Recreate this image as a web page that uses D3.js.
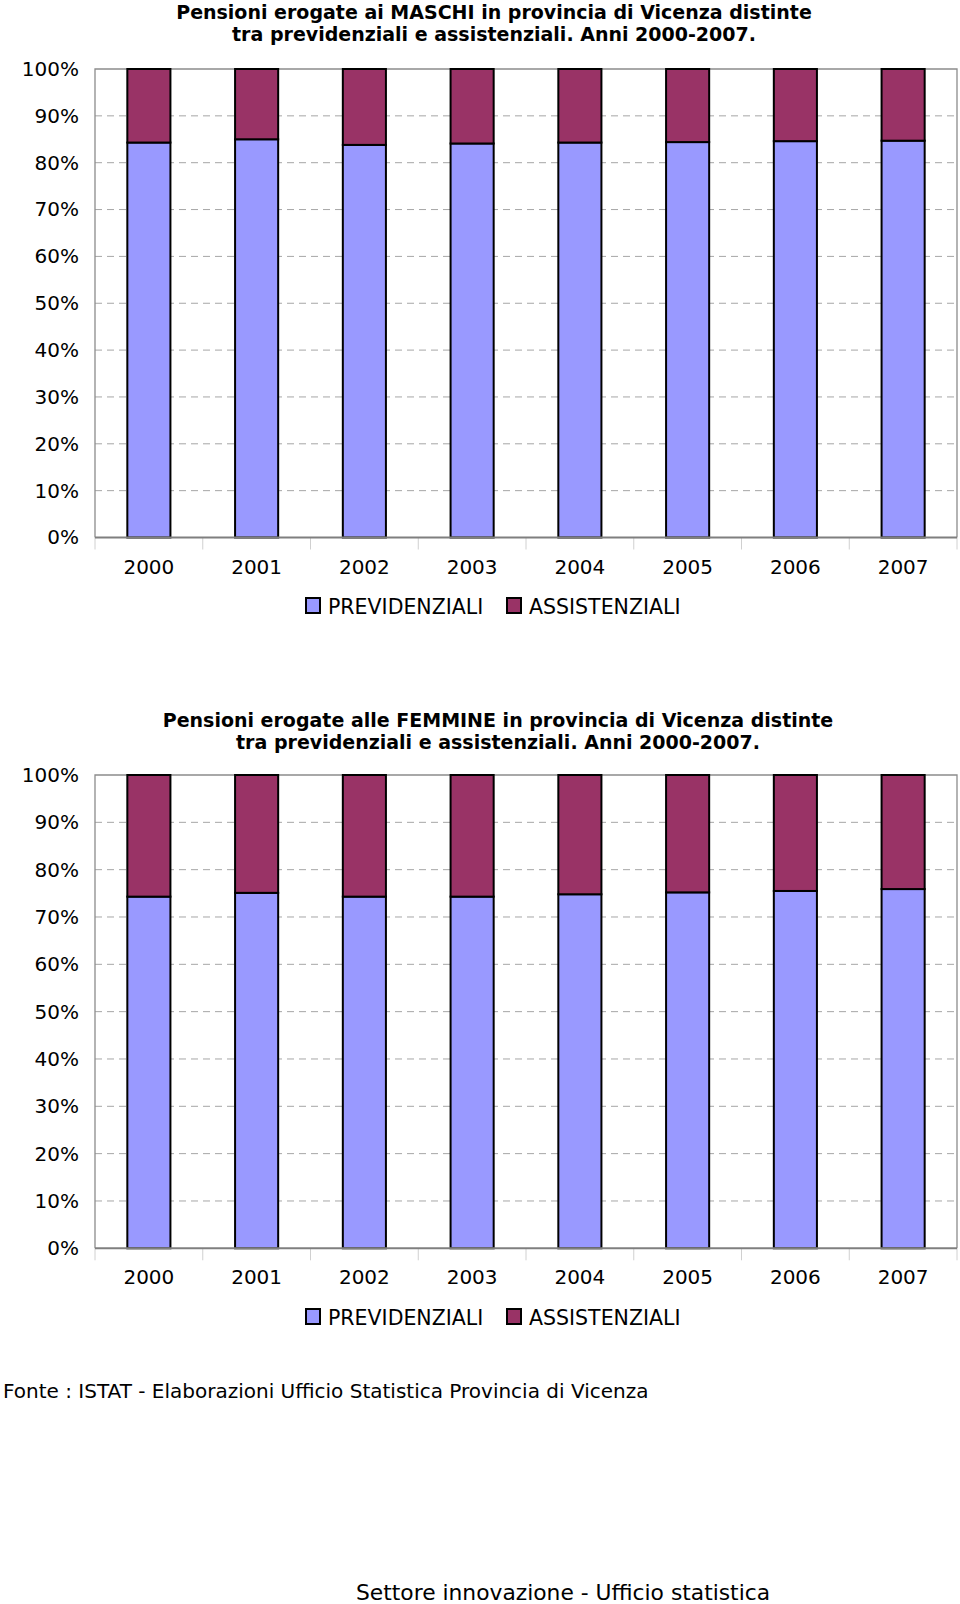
<!DOCTYPE html>
<html>
<head>
<meta charset="utf-8">
<script src="https://cdn.jsdelivr.net/npm/d3@7"></script>
<style>
  html, body { margin: 0; padding: 0; background: #fff; }
  svg { display: block; }
  text { font-family: "DejaVu Sans", Verdana, sans-serif; fill: #000; }
</style>
</head>
<body>
<svg id="chart" width="960" height="1604"></svg>
<script>
// ---- data ----
const years = ["2000", "2001", "2002", "2003", "2004", "2005", "2006", "2007"];
const seriesNames = ["PREVIDENZIALI", "ASSISTENZIALI"];
const maschiPrev = [84.3, 85.0, 83.8, 84.1, 84.3, 84.4, 84.6, 84.7];
const maschiAss  = [15.7, 15.0, 16.2, 15.9, 15.7, 15.6, 15.4, 15.3];
const femminePrev = [74.3, 75.1, 74.3, 74.3, 74.8, 75.2, 75.5, 75.9];
const femmineAss  = [25.7, 24.9, 25.7, 25.7, 25.2, 24.8, 24.5, 24.1];
const yTicks = [0, 10, 20, 30, 40, 50, 60, 70, 80, 90, 100];
const titleMaschi = ["Pensioni erogate ai MASCHI in provincia di Vicenza distinte",
                     "tra previdenziali e assistenziali. Anni 2000-2007."];
const titleFemmine = ["Pensioni erogate alle FEMMINE in provincia di Vicenza distinte",
                      "tra previdenziali e assistenziali. Anni 2000-2007."];
const sourceText = "Fonte : ISTAT - Elaborazioni Ufficio Statistica Provincia di Vicenza";
const footerText = "Settore innovazione - Ufficio statistica";

const colors = { PREVIDENZIALI: "#9999FF", ASSISTENZIALI: "#993366" };

const svg = d3.select("#chart");

function drawChart(cfg) {
  const g = svg.append("g");
  const x = d3.scaleBand().domain(years).range([cfg.left, cfg.right]).paddingInner(0.6).paddingOuter(0.3);
  const y = d3.scaleLinear().domain([0, 100]).range([cfg.bottom, cfg.top]);

  // title
  g.selectAll("text.title").data(cfg.title).enter().append("text")
    .attr("class", "title")
    .attr("x", cfg.titleX)
    .attr("y", (d, i) => cfg.titleY + i * 22)
    .attr("text-anchor", "middle")
    .style("font-weight", "bold")
    .style("font-size", "19px")
    .text(d => d);

  // gridlines
  g.append("g").selectAll("line").data(yTicks.filter(t => t > 0 && t < 100)).enter().append("line")
    .attr("x1", cfg.left).attr("x2", cfg.right)
    .attr("y1", d => y(d)).attr("y2", d => y(d))
    .attr("stroke", "#a6a6a6").attr("stroke-width", 1)
    .attr("stroke-dasharray", "7,5");

  // plot frame (left, top, right)
  g.append("path")
    .attr("d", `M${cfg.left},${cfg.bottom}V${cfg.top}H${cfg.right}V${cfg.bottom}`)
    .attr("fill", "none").attr("stroke", "#8c8c8c").attr("stroke-width", 1.3);

  // y axis labels
  const yAxis = d3.axisLeft(y).tickValues(yTicks).tickFormat(d => d + "%").tickSize(0).tickPadding(16);
  const ya = g.append("g").attr("transform", `translate(${cfg.left},0)`).call(yAxis);
  ya.select(".domain").remove();
  ya.selectAll("text").style("font-size", "20px").style("font-family", "'DejaVu Sans', Verdana, sans-serif").attr("fill", "#000");

  // category separator ticks
  const bounds = d3.range(years.length + 1).map(i => cfg.left + i * x.step());
  g.append("g").selectAll("line").data(bounds).enter().append("line")
    .attr("x1", d => d).attr("x2", d => d)
    .attr("y1", cfg.bottom).attr("y2", cfg.bottom + 12)
    .attr("stroke", "#d0d0d0").attr("stroke-width", 1);

  // stacked bars
  const rows = years.map((yr, i) => ({ year: yr, PREVIDENZIALI: cfg.prev[i], ASSISTENZIALI: cfg.ass[i] }));
  const stack = d3.stack().keys(seriesNames)(rows);
  g.append("g").selectAll("g").data(stack).enter().append("g")
    .attr("fill", d => colors[d.key])
    .selectAll("rect").data(d => d).enter().append("rect")
    .attr("x", d => x(d.data.year))
    .attr("width", x.bandwidth())
    .attr("y", d => y(d[1]))
    .attr("height", d => y(d[0]) - y(d[1]))
    .attr("stroke", "#000").attr("stroke-width", 2);

  // x axis line
  g.append("line").attr("x1", cfg.left).attr("x2", cfg.right)
    .attr("y1", cfg.bottom).attr("y2", cfg.bottom)
    .attr("stroke", "#7f7f7f").attr("stroke-width", 2);

  // x labels
  const xAxis = d3.axisBottom(x).tickSize(0).tickPadding(0);
  const xa = g.append("g").attr("transform", `translate(0,${cfg.bottom})`).call(xAxis);
  xa.select(".domain").remove();
  xa.selectAll("text").attr("dy", null).attr("y", cfg.xLabelBaseline - cfg.bottom)
    .style("font-size", "20px").style("font-family", "'DejaVu Sans', Verdana, sans-serif").attr("fill", "#000");

  // legend
  const legendX = [306, 507];
  const lg = g.append("g").attr("transform", `translate(0,${cfg.legendY})`);
  seriesNames.forEach((name, i) => {
    lg.append("rect").attr("x", legendX[i]).attr("y", -8).attr("width", 14).attr("height", 15)
      .attr("fill", colors[name]).attr("stroke", "#000").attr("stroke-width", 2);
    lg.append("text").attr("x", legendX[i] + 22).attr("y", 7.5)
      .style("font-size", "20.5px").text(name);
  });
}

drawChart({
  left: 95, right: 957, top: 69, bottom: 537.5,
  title: titleMaschi, titleX: 494, titleY: 19,
  prev: maschiPrev, ass: maschiAss,
  xLabelBaseline: 574, legendY: 606
});

drawChart({
  left: 95, right: 957, top: 775, bottom: 1248.3,
  title: titleFemmine, titleX: 498, titleY: 727,
  prev: femminePrev, ass: femmineAss,
  xLabelBaseline: 1284, legendY: 1317
});

svg.append("text").attr("x", 3).attr("y", 1398).style("font-size", "20px").text(sourceText);
svg.append("text").attr("x", 356).attr("y", 1600).style("font-size", "21.8px").text(footerText);
</script>
</body>
</html>
